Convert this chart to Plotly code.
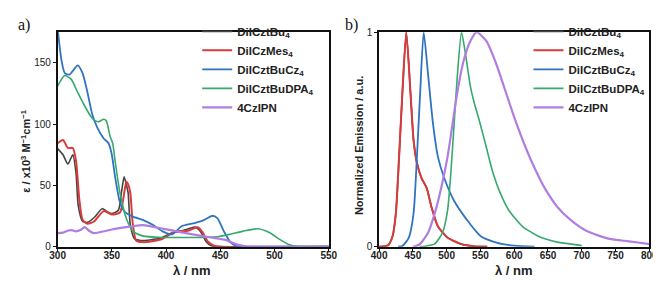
import plotly.graph_objects as go

# ---------------- Absorption (panel a) ----------------
abs_bu_x = [300, 305, 309.5, 314, 317, 319, 323, 327.5, 334, 341, 345, 350, 356, 359, 361.3, 363, 365, 367, 371, 376.5, 385, 395, 405, 415, 422, 427, 432, 437, 442, 450, 550]
abs_bu_y = [80, 75, 67.4, 75, 60, 33.6, 20.5, 19.8, 24, 31, 29, 27, 29.7, 45, 57, 52, 44, 18, 6.3, 5, 5.5, 7, 11, 13, 15, 16, 12, 4, 0.5, 0, 0]

abs_mes_x = [300, 305, 309.5, 314, 317, 320, 323, 327.5, 333.5, 342.5, 350, 357.5, 360.5, 363.4, 365, 367, 369.4, 372.4, 378.4, 387, 396.4, 408.3, 420.3, 429.3, 433.8, 438.3, 444.3, 450, 550]
abs_mes_y = [84.4, 87, 80.5, 80.5, 70, 38.8, 21.9, 18.7, 20.5, 29, 26.3, 27.9, 38.8, 53, 51, 44, 18, 5, 3.7, 4.5, 6.3, 12.3, 13, 15.9, 11.5, 4.5, 0.8, 0, 0]

abs_cz_x = [300, 303.6, 306.6, 311, 318.5, 323, 327.5, 332, 336.5, 342.5, 347, 350, 353, 357.5, 362, 369.4, 378.4, 387.4, 396.4, 405.4, 414.3, 426.3, 435.3, 442.8, 447.3, 453.2, 459.3, 465.3, 470, 550]
abs_cz_y = [178, 152, 141.6, 140.4, 148, 141.6, 126, 107.8, 97.4, 88.3, 84.4, 75, 57, 36, 28.4, 24.5, 21.9, 18, 12.7, 10, 16.6, 19.3, 21.9, 25.2, 23.2, 12.7, 3.7, 0.2, 0, 0]

abs_dpa_x = [300, 306.6, 312.6, 318.5, 324.5, 330.5, 335, 338, 342.5, 345, 348.5, 350.8, 353, 357.5, 363.4, 369.4, 378.4, 396.4, 420, 435.3, 450, 459.3, 471.2, 484.7, 495.2, 504, 513, 520.6, 525, 550]
abs_dpa_y = [131, 139.6, 136.5, 126, 115.6, 106.5, 102.6, 102, 104, 102.6, 89.6, 84.4, 70, 44, 23, 12.7, 8.8, 7.5, 7.5, 7.5, 8.5, 10.2, 12.7, 14.6, 11.5, 6.3, 1.8, 0.2, 0, 0]

abs_czipn_x = [300, 305, 310, 313, 317, 321, 325, 329, 333, 340, 350, 360, 370, 378, 385, 395, 405.4, 423.3, 441.3, 454.8, 463.7, 470, 474, 480, 550]
abs_czipn_y = [11, 11.5, 13.2, 13.5, 12.5, 13.5, 16, 13, 11, 12, 14, 15.5, 16.8, 17.5, 16.8, 15, 13.3, 10.2, 7.5, 5.5, 2.3, 0.8, 0.2, 0, 0]

# ---------------- Emission (panel b) ----------------
em_bu_x = [400, 413, 420, 424.8, 429.6, 434.5, 440.2, 446.4, 451, 456, 463, 470.4, 477.6, 487, 501, 520.6, 539.7, 560]
em_bu_y = [0, 0.006, 0.05, 0.155, 0.42, 0.72, 1.0, 0.72, 0.497, 0.39, 0.318, 0.274, 0.184, 0.095, 0.043, 0.013, 0.002, 0]

em_mes_x = [400, 413, 420, 424.8, 429.6, 434.5, 440.2, 446.4, 451, 456, 463, 470.4, 477.6, 487, 501, 520.6, 539.7, 560]
em_mes_y = [0, 0.006, 0.05, 0.155, 0.42, 0.72, 1.0, 0.72, 0.497, 0.39, 0.318, 0.274, 0.184, 0.095, 0.043, 0.013, 0.002, 0]

em_cz_x = [428, 434.5, 444, 451, 456, 460.8, 466, 472.7, 479.9, 487, 496.7, 511, 530, 550, 575, 600, 630]
em_cz_y = [0, 0.003, 0.042, 0.155, 0.42, 0.72, 1.0, 0.795, 0.57, 0.42, 0.318, 0.214, 0.125, 0.05, 0.018, 0.005, 0]

em_dpa_x = [460, 468, 482.3, 494, 501.4, 506.3, 511, 515.8, 522, 527.8, 535, 540, 549, 559, 568, 578, 592, 612, 635, 664, 698, 700]
em_dpa_y = [0, 0.002, 0.013, 0.066, 0.17, 0.348, 0.57, 0.795, 1.0, 0.9, 0.75, 0.68, 0.58, 0.46, 0.35, 0.26, 0.17, 0.095, 0.05, 0.021, 0.006, 0.005]

em_czipn_x = [450, 453.6, 460.8, 472.7, 482.3, 491.9, 501.4, 508.6, 515.8, 525.4, 535, 544.5, 558.9, 573.2, 587.6, 602, 616.3, 630.7, 645, 664.3, 683.4, 707.4, 741, 769.6, 798, 800]
em_czipn_y = [0, 0.002, 0.013, 0.066, 0.155, 0.274, 0.42, 0.57, 0.72, 0.87, 0.958, 1.0, 0.958, 0.854, 0.72, 0.586, 0.467, 0.363, 0.274, 0.184, 0.125, 0.073, 0.036, 0.025, 0.013, 0.012]

names = ["<b>DiICztBu<sub>4</sub></b>", "<b>DiICzMes<sub>4</sub></b>", "<b>DiICztBuCz<sub>4</sub></b>",
         "<b>DiICztBuDPA<sub>4</sub></b>", "<b>4CzIPN</b>"]
colors = ["#454545", "#d93a3c", "#2f73c2", "#37a96d", "#b07ee0"]
widths = [1.6, 2.0, 1.8, 1.6, 2.2]

abs_sets = [(abs_bu_x, abs_bu_y), (abs_mes_x, abs_mes_y), (abs_cz_x, abs_cz_y),
            (abs_dpa_x, abs_dpa_y), (abs_czipn_x, abs_czipn_y)]
em_sets = [(em_bu_x, em_bu_y), (em_mes_x, em_mes_y), (em_cz_x, em_cz_y),
           (em_dpa_x, em_dpa_y), (em_czipn_x, em_czipn_y)]

fig = go.Figure()
for i, (x, y) in enumerate(abs_sets):
    fig.add_trace(go.Scatter(x=x, y=y, mode="lines", name=names[i],
                             line=dict(color=colors[i], width=widths[i], shape="spline", smoothing=0.6),
                             xaxis="x", yaxis="y", legend="legend"))
for i, (x, y) in enumerate(em_sets):
    fig.add_trace(go.Scatter(x=x, y=y, mode="lines", name=names[i],
                             line=dict(color=colors[i], width=widths[i], shape="spline", smoothing=0.6),
                             xaxis="x2", yaxis="y2", legend="legend2"))

tickfont = dict(family="Liberation Sans", size=10, color="#222")
ax_common = dict(showline=True, linecolor="#111", linewidth=1.5, mirror=True,
                 ticks="outside", ticklen=3, tickwidth=1.2, tickcolor="#111",
                 showgrid=False, zeroline=False, tickfont=tickfont,
                 tickprefix="<b>", ticksuffix="</b>")

legend_common = dict(font=dict(family="Liberation Sans", size=11.5, color="#222"),
                     bgcolor="rgba(0,0,0,0)", tracegroupgap=0, itemwidth=30,
                     xanchor="left", yanchor="top")

title_font = dict(family="Liberation Sans", size=13, color="#222")
ytitle_font = dict(family="Liberation Sans", size=11, color="#222")

fig.update_layout(
    width=661, height=282, margin=dict(l=0, r=0, t=0, b=0),
    paper_bgcolor="white", plot_bgcolor="white",
    xaxis=dict(domain=[42.7/661, 321/661], range=[300, 550], dtick=50, anchor="y",
               ticklabelstandoff=-4, **ax_common),
    yaxis=dict(domain=[39/282, 263/282], range=[0, 175], tickvals=[0, 50, 100, 150], anchor="x", **ax_common),
    xaxis2=dict(domain=[372.7/661, 650/661], range=[400, 800], dtick=50, anchor="y2",
                ticklabelstandoff=-4, **ax_common),
    yaxis2=dict(domain=[39/282, 263/282], range=[0, 1], tickvals=[0, 1], anchor="x2", **ax_common),
    legend=dict(x=186/661, y=1 - 3/282, **legend_common),
    legend2=dict(x=526/661, y=1 - 3/282, **legend_common),
    annotations=[
        dict(text="a)", x=0, y=1, xref="paper", yref="paper", xanchor="left", yanchor="top",
             showarrow=False, font=dict(family="Liberation Serif", size=16, color="#111")),
        dict(text="b)", x=336/661, y=1, xref="paper", yref="paper", xanchor="left", yanchor="top",
             showarrow=False, font=dict(family="Liberation Serif", size=16, color="#111")),
        dict(text="<b>λ / nm</b>", x=181/661, y=(282-268)/282, xref="paper", yref="paper",
             xanchor="center", yanchor="middle", showarrow=False, font=title_font),
        dict(text="<b>λ / nm</b>", x=511/661, y=(282-268)/282, xref="paper", yref="paper",
             xanchor="center", yanchor="middle", showarrow=False, font=title_font),
        dict(text="<b>ε / x10<sup>3</sup> M<sup>−1</sup>cm<sup>−1</sup></b>", x=10/661, y=(282-143)/282,
             xref="paper", yref="paper", xanchor="center", yanchor="middle", textangle=-90,
             showarrow=False, font=ytitle_font),
        dict(text="<b>Normalized Emission / a.u.</b>", x=352/661, y=(282-137)/282,
             xref="paper", yref="paper", xanchor="center", yanchor="middle", textangle=-90,
             showarrow=False, font=ytitle_font),
    ],
)

fig.write_html("out.html")
